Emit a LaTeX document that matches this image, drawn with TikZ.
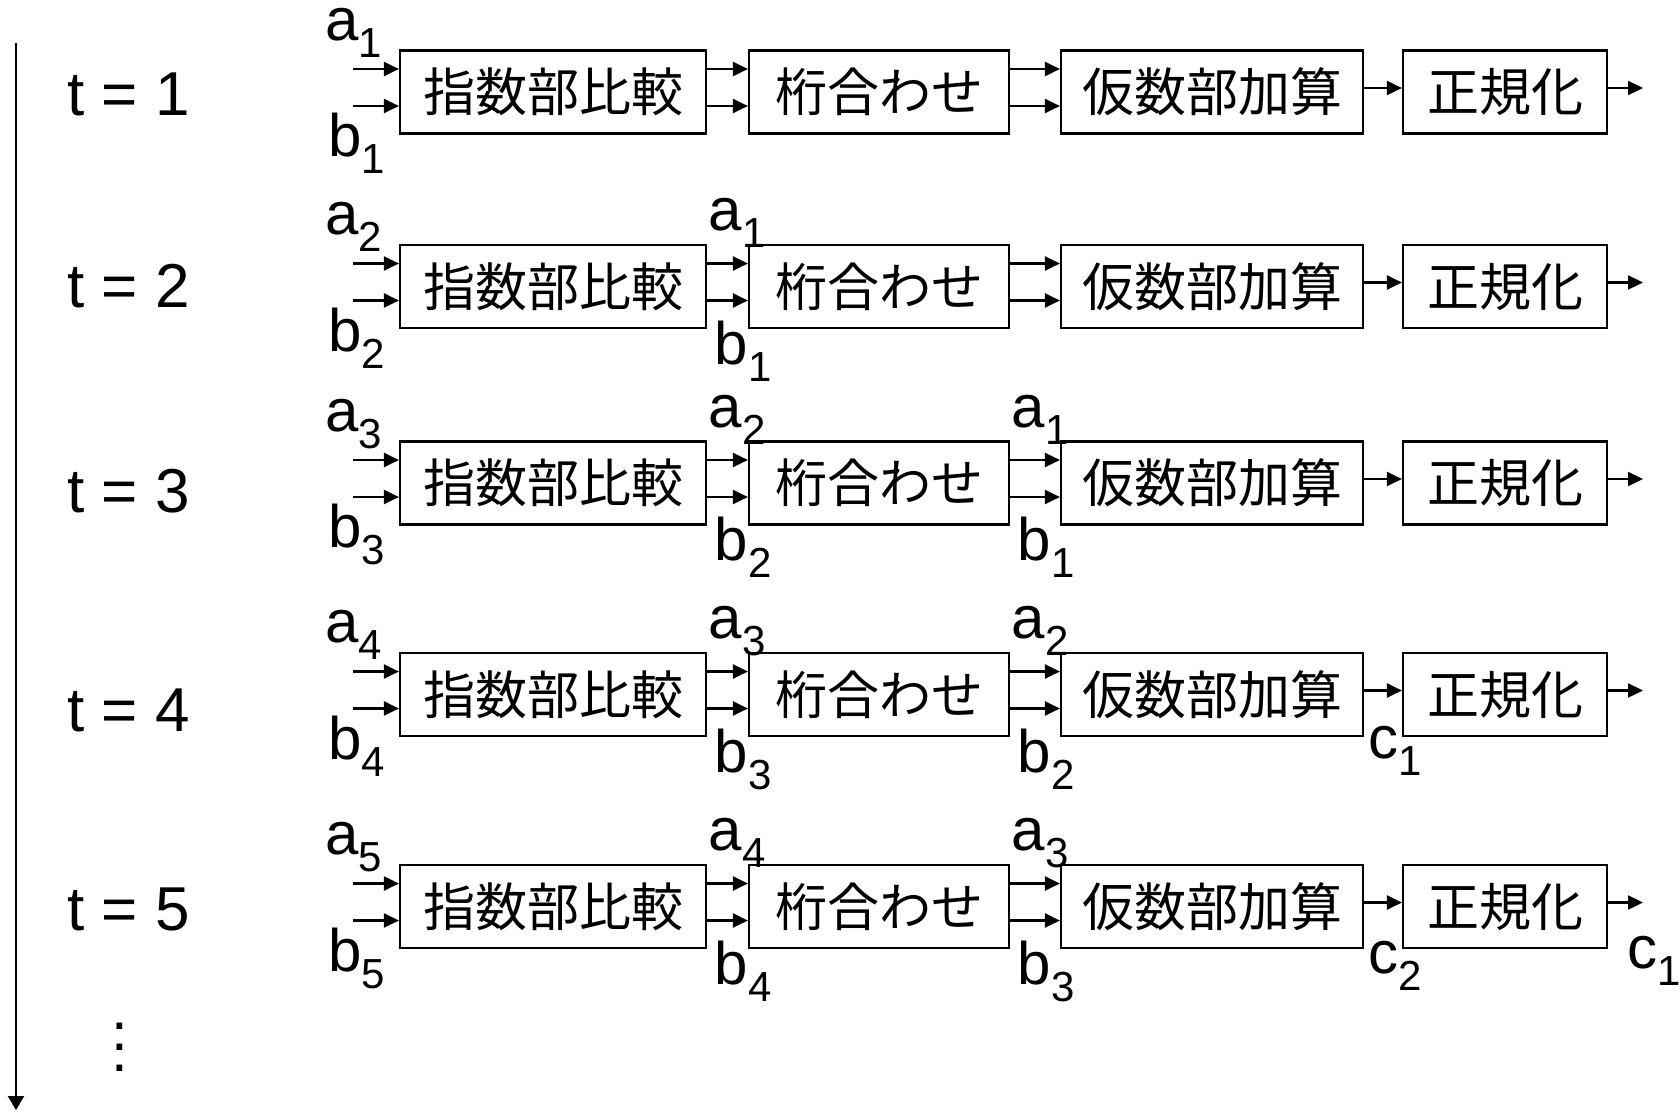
\documentclass[tikz,border=0pt]{standalone}
\usepackage{fontspec}
\setmainfont{Liberation Sans}
\newfontfamily\jpfont{Noto Sans CJK JP}
\usetikzlibrary{arrows.meta}

\newcommand{\idx}[2]{#1\raisebox{-17pt}{\fontsize{42}{42}\selectfont #2}}

\tikzset{
    stage/.style = {rectangle, draw=black, line width=2.2pt, minimum height=83pt, inner sep=0pt, text centered, font=\jpfont\fontsize{52}{52}\selectfont},
    arrow/.style = {line width=2.2pt, -{Triangle[length=15pt, width=14pt]}},
    lbl/.style = {inner sep=0pt, anchor=base west, font=\fontsize{60}{60}\selectfont},
    tlbl/.style = {inner sep=0pt, anchor=base west, font=\fontsize{62}{62}\selectfont}
}

\begin{document}
\begin{tikzpicture}[x=1pt, y=-1pt]
\useasboundingbox (0,0) rectangle (1680,1111);

% time axis
\coordinate (ttop) at (16,43);
\coordinate (tend) at (16,1110);
\draw [line width=2.4pt, -{Triangle[length=14pt, width=16pt]}] (ttop) -- (tend);
\node (dots) [align=center, inner sep=0pt, font=\fontsize{60}{21}\selectfont] at (120,1047) {.\\.\\.};

% one row per clock step
\foreach \r/\y/\ty in {1/92/115, 2/286.5/307, 3/483/512, 4/694.5/731, 5/906.5/930} {
    \node (t\r) [tlbl] at (67,\ty) {t = \r};
    \node (cmp\r) [stage, minimum width=306pt] at (553,\y) {指数部比較};
    \node (aln\r) [stage, minimum width=260pt] at (879,\y) {桁合わせ};
    \node (add\r) [stage, minimum width=302pt] at (1212,\y) {仮数部加算};
    \node (nrm\r) [stage, minimum width=204pt] at (1505,\y) {正規化};
    \coordinate (ina\r) at (353,\y-23);
    \coordinate (inb\r) at (353,\y+14);
    \coordinate (out\r) at (1643,\y-4);

    \draw [arrow] (ina\r) -- (cmp\r.west |- ina\r);
    \draw [arrow] (inb\r) -- (cmp\r.west |- inb\r);
    \draw [arrow] ([yshift=23pt]cmp\r.east) -- ([yshift=23pt]aln\r.west);
    \draw [arrow] ([yshift=-14pt]cmp\r.east) -- ([yshift=-14pt]aln\r.west);
    \draw [arrow] ([yshift=23pt]aln\r.east) -- ([yshift=23pt]add\r.west);
    \draw [arrow] ([yshift=-14pt]aln\r.east) -- ([yshift=-14pt]add\r.west);
    \draw [arrow] ([yshift=4pt]add\r.east) -- ([yshift=4pt]nrm\r.west);
    \draw [arrow] ([yshift=4pt]nrm\r.east) -- (out\r);

    \node (ain\r) [lbl] at ([xshift=-74pt, yshift=9pt]cmp\r.north west) {\idx{a}{\r}};
    \node (bin\r) [lbl] at ([xshift=-71pt, yshift=-22pt]cmp\r.south west) {\idx{b}{\r}};
}

% operands moving through the stages
\foreach \r/\k in {2/1, 3/2, 4/3, 5/4} {
    \node (acmp\r) [lbl] at ([xshift=1.5pt, yshift=13pt]cmp\r.north east) {\idx{a}{\k}};
    \node (bcmp\r) [lbl] at ([xshift=7.5pt, yshift=-35pt]cmp\r.south east) {\idx{b}{\k}};
}
\foreach \r/\k in {3/1, 4/2, 5/3} {
    \node (aaln\r) [lbl] at ([xshift=1.5pt, yshift=13pt]aln\r.north east) {\idx{a}{\k}};
    \node (baln\r) [lbl] at ([xshift=7.5pt, yshift=-35pt]aln\r.south east) {\idx{b}{\k}};
}
\node (cadd4) [lbl] at ([xshift=4pt, yshift=-21pt]add4.south east) {\idx{c}{1}};
\node (cadd5) [lbl] at ([xshift=4pt, yshift=-24pt]add5.south east) {\idx{c}{2}};
\node (cnrm5) [lbl] at ([xshift=19pt, yshift=-19pt]nrm5.south east) {\idx{c}{1}};
\end{tikzpicture}
\end{document}
